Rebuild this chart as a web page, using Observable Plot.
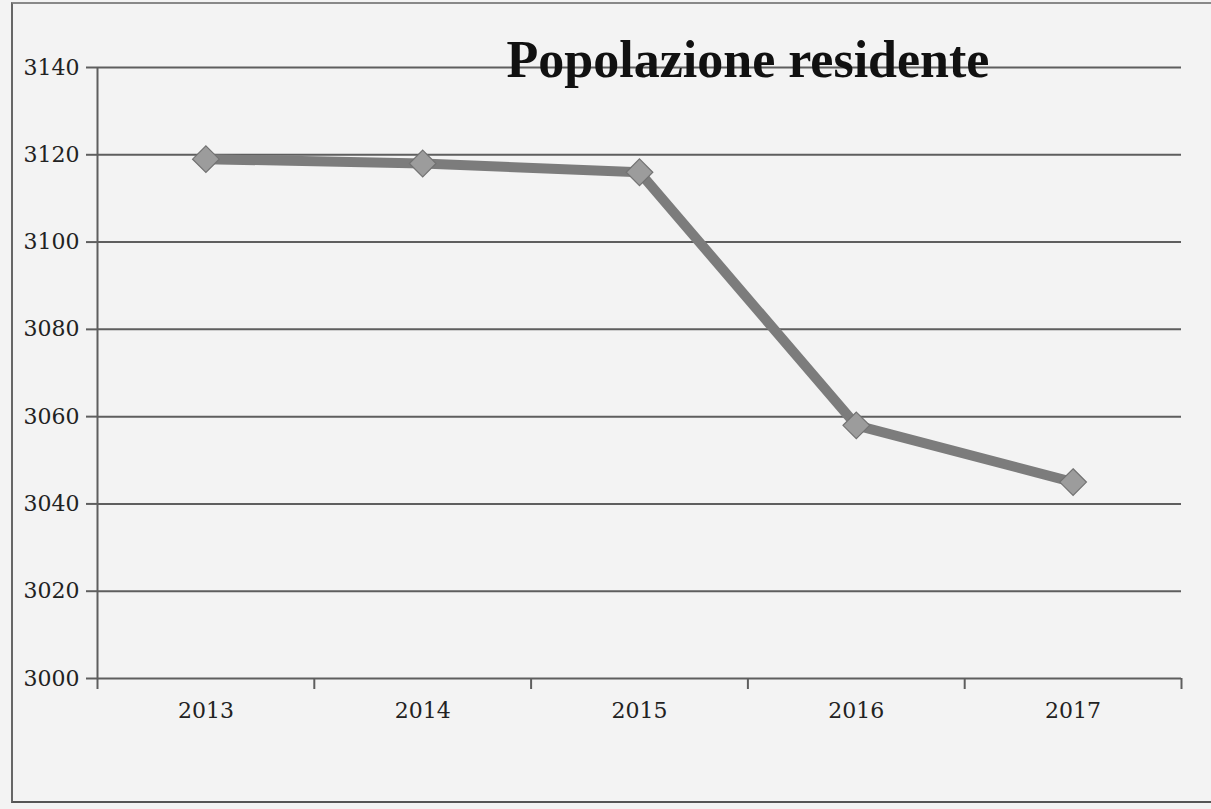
<!DOCTYPE html>
<html>
<head>
<meta charset="utf-8">
<script src="https://cdn.jsdelivr.net/npm/d3@7"></script>
<script src="https://cdn.jsdelivr.net/npm/@observablehq/plot@0.6"></script>
<style>
  html, body { margin: 0; padding: 0; background: #f3f3f3; }
  #wrap { position: relative; width: 1211px; height: 809px; overflow: hidden; background: #f3f3f3; }
  #frame { position: absolute; left: 11px; top: 2px; width: 1240px; height: 797px;
           border-left: 2px solid #666; border-top: 2px solid #888; border-bottom: 2px solid #555; }
  #title { position: absolute; left: 0; width: 1496px; top: 34px; text-align: center;
           font-family: "Liberation Serif", "DejaVu Serif", serif; font-weight: bold;
           font-size: 52px; color: #111; line-height: 1; }
  #chart { position: absolute; left: 0; top: 0; }
</style>
</head>
<body>
<div id="wrap">
  <div id="frame"></div>
  <div id="chart"></div>
  <div id="title">Popolazione residente</div>
</div>
<script>
const title = "Popolazione residente";
const years = [2013, 2014, 2015, 2016, 2017];
const population = [3119, 3118, 3116, 3058, 3045];
const yTicks = [3000, 3020, 3040, 3060, 3080, 3100, 3120, 3140];

const data = years.map((y, i) => ({year: y, value: population[i]}));
const x0 = years[0] - 0.5, x1 = years[years.length - 1] + 0.5;
const boundaries = d3.range(years.length + 1).map(i => x0 + i);

const chart = Plot.plot({
  width: 1211,
  height: 809,
  marginLeft: 97,
  marginRight: 30,
  marginTop: 67,
  marginBottom: 131,
  style: {background: "transparent", fontFamily: "DejaVu Serif, serif", fontSize: "22px", color: "#222"},
  x: {domain: [x0, x1]},
  y: {domain: [yTicks[0], yTicks[yTicks.length - 1]]},
  marks: [
    Plot.ruleY(yTicks, {stroke: "#5e5e5e", strokeWidth: 2}),
    Plot.ruleX([x0], {y1: yTicks[0], y2: yTicks[yTicks.length - 1], stroke: "#5e5e5e", strokeWidth: 2}),
    Plot.axisY({ticks: yTicks, tickSize: 11, tickPadding: 7, tickFormat: d => String(d), stroke: "#5e5e5e", strokeWidth: 2, label: null, fill: "#222", fontSize: 22, fontFamily: "DejaVu Serif"}),
    Plot.axisX(boundaries, {tickSize: 11, tickFormat: () => "", stroke: "#5e5e5e", strokeWidth: 2, label: null}),
    Plot.axisX(years, {tickSize: 0, tickPadding: 24, tickFormat: d => String(d), label: null, fill: "#222", fontSize: 22, fontFamily: "DejaVu Serif"}),
    Plot.line(data, {x: "year", y: "value", stroke: "#7c7c7c", strokeWidth: 10, strokeLinejoin: "round"}),
    Plot.dot(data, {x: "year", y: "value", symbol: "diamond2", r: 12, fill: "#9c9c9c", stroke: "#727272", strokeWidth: 1.2})
  ]
});
document.getElementById("chart").appendChild(chart);
</script>
</body>
</html>
